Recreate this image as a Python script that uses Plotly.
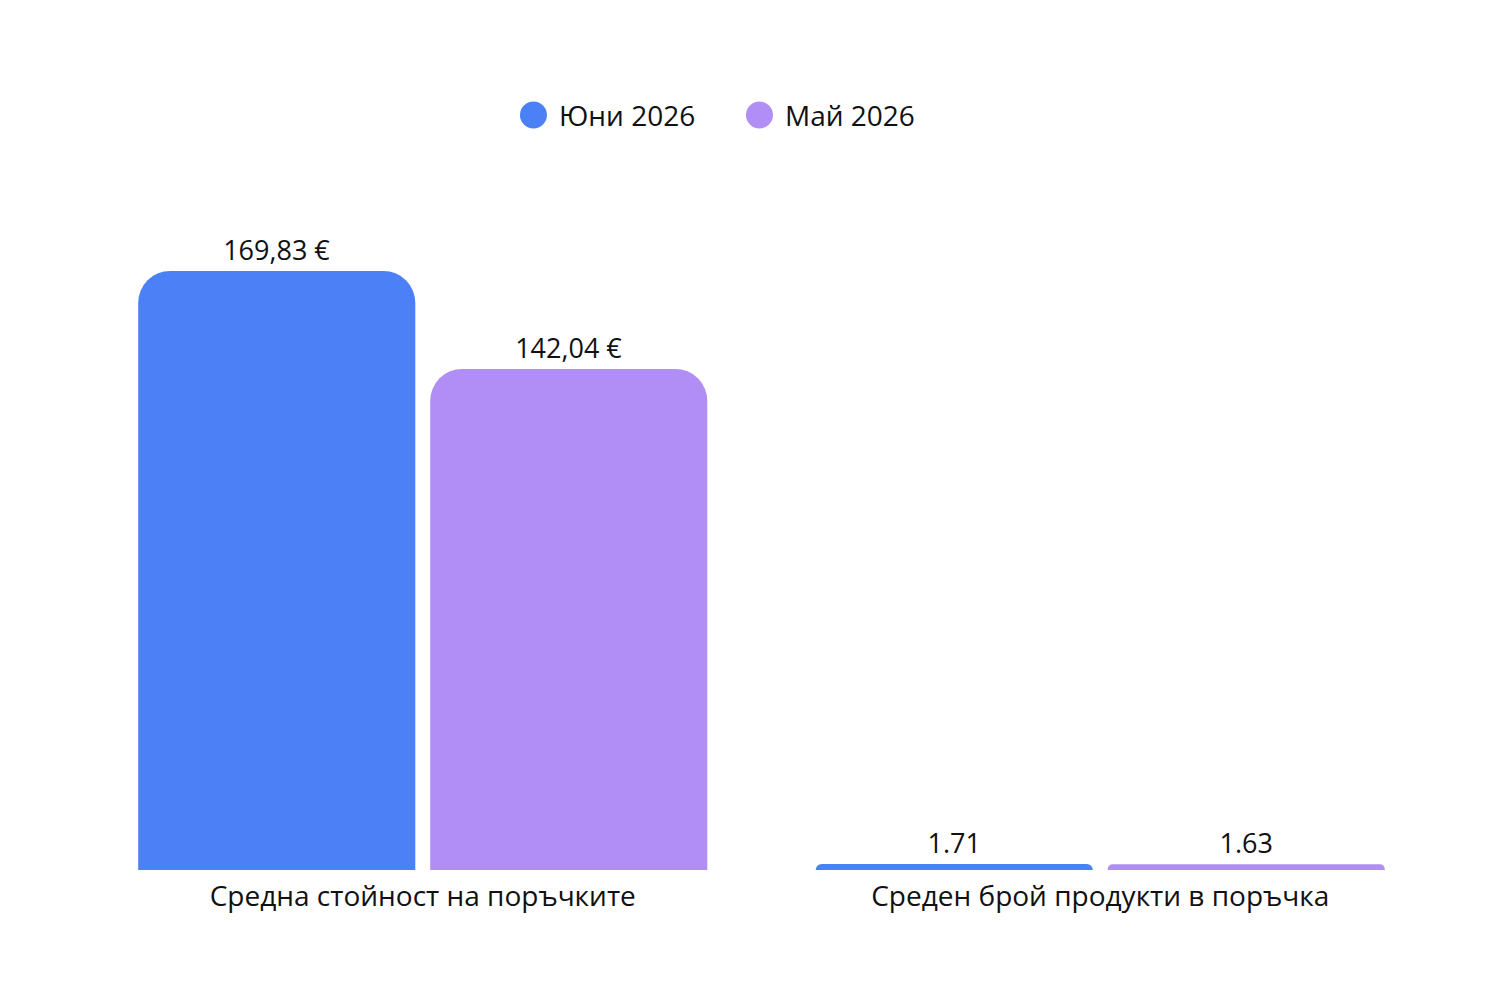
import plotly.graph_objects as go

categories = ["Средна стойност на поръчките", "Среден брой продукти в поръчка"]
series_names = ["Юни 2026", "Май 2026"]
june_values = [169.83, 1.71]
may_values = [142.04, 1.63]
june_labels = ["169,83 €", "1.71"]
may_labels = ["142,04 €", "1.63"]
colors = ["#4c80f7", "#b08ef5"]

FONT = "Open Sans"

fig = go.Figure()
for name, vals, labels, col in zip(series_names, [june_values, may_values],
                                   [june_labels, may_labels], colors):
    fig.add_trace(go.Bar(
        x=categories, y=vals, name=name, text=labels,
        textposition="outside", cliponaxis=False,
        textfont=dict(size=27, color="#111111", family=FONT),
        marker=dict(color=col, line=dict(width=0)),
        showlegend=False,
    ))

# custom legend (large circle markers)
legend_circle_x = [0.3317, 0.4985]
legend_text_x = [0.3491, 0.5159]
legend_y = 1.0486
for name, col, cx, tx in zip(series_names, colors, legend_circle_x, legend_text_x):
    fig.add_shape(type="circle", xref="paper", yref="paper",
                  xsizemode="pixel", ysizemode="pixel",
                  xanchor=cx, yanchor=legend_y,
                  x0=-13.5, x1=13.5, y0=-13.5, y1=13.5,
                  fillcolor=col, line=dict(width=0))
    fig.add_annotation(text=name, xref="paper", yref="paper", x=tx, y=legend_y,
                       xanchor="left", yanchor="middle", showarrow=False,
                       font=dict(size=28, family=FONT, color="#111111"))

fig.update_layout(
    width=1500, height=1000,
    paper_bgcolor="white", plot_bgcolor="white",
    font=dict(family=FONT, size=28, color="#111111"),
    margin=dict(l=76, r=69, t=142, b=138),
    barmode="group", bargap=0.138, bargroupgap=0.051,
    barcornerradius=32,
    showlegend=False,
    xaxis=dict(showgrid=False, showline=False, zeroline=False, ticks="",
               ticklabelstandoff=7,
               tickfont=dict(size=28, family=FONT, color="#111111")),
    yaxis=dict(visible=False, range=[0, 204.1], fixedrange=True),
)
fig.write_html("out.html")
